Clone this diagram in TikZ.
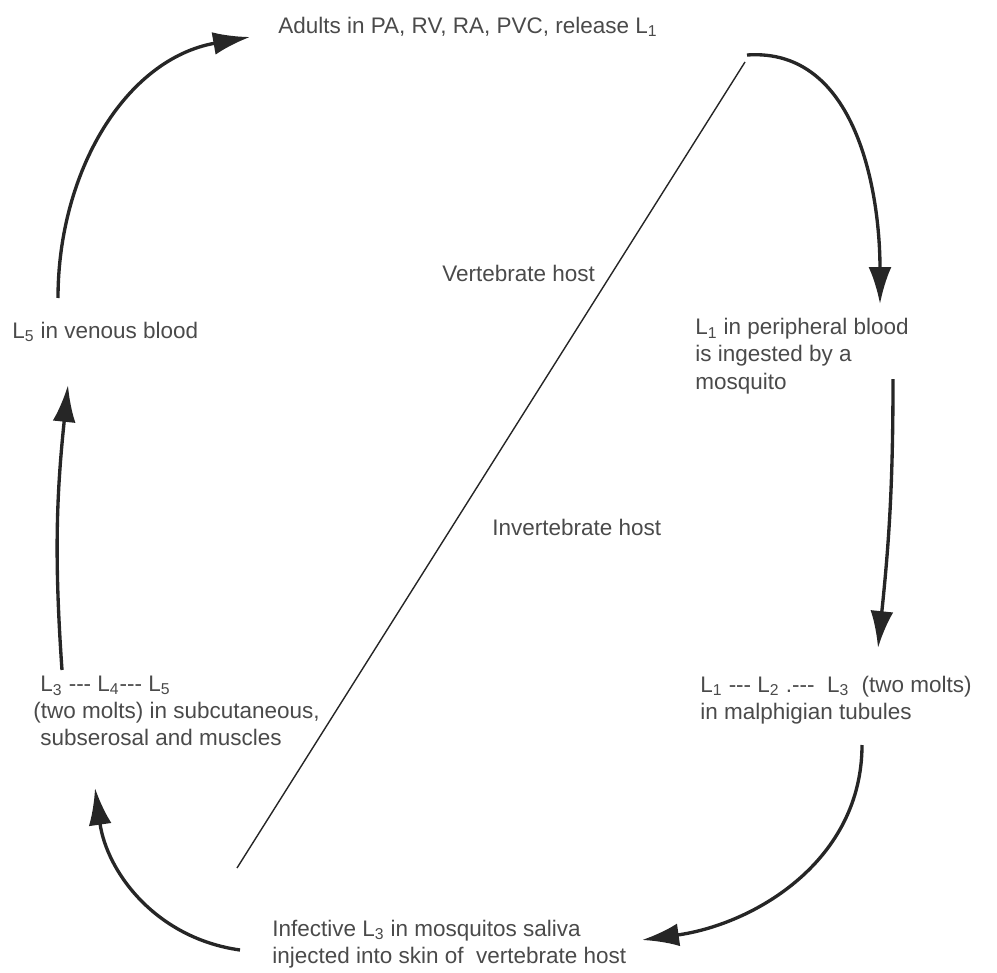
\documentclass[tikz,border=0pt]{standalone}
\usepackage{fontspec}
\setmainfont{Liberation Sans}
\usetikzlibrary{arrows.meta}

\definecolor{inkgray}{HTML}{4A4A4A}
\definecolor{linegray}{HTML}{262626}

\tikzstyle{stage} = [anchor=west, align=left, inner sep=0pt, text=inkgray, font=\fontsize{12.8}{15.5}\selectfont]
\tikzstyle{cyclearrow} = [draw=linegray, line width=1.9pt, -{Latex[length=21pt,width=13pt]}]
\tikzstyle{divider} = [draw=linegray, line width=0.8pt]

\begin{document}
\begin{tikzpicture}[x=0.02cm, y=-0.02cm]
    \useasboundingbox (0,0) rectangle (997,973);
    % nodes
    \foreach \nodename/\x/\y/\stagetext in {
      adults/278/27/{Adults in PA, RV, RA, PVC, release L\textsubscript{1}},
      blood/695/356/{L\textsubscript{1} in peripheral blood\\is ingested by a\\mosquito},
      tubules/700/700/{L\textsubscript{1} -{}-{}- L\textsubscript{2} .-{}-{}-\ \ L\textsubscript{3}\ \ (two molts)\\in malphigian tubules},
      saliva/272/944/{Infective L\textsubscript{3} in mosquitos saliva\\injected into skin of\ \ vertebrate host},
      muscles/33/711/{\hspace*{4pt}L\textsubscript{3} -{}-{}- L\textsubscript{4}-{}-{}- L\textsubscript{5}\\(two molts) in subcutaneous,\\\hspace*{4pt}subserosal and muscles},
      venous/12/332/{L\textsubscript{5} in venous blood},
      vert/442/273/{Vertebrate host},
      invert/492/527/{Invertebrate host}}
    {
        \node[stage] (\nodename) at (\x,\y) {\stagetext};
    };
    % host divider
    \coordinate (hosttop) at (745,62);
    \coordinate (hostbot) at (237,868);
    \draw[divider] (hosttop) -- (hostbot);
    % edges
    \foreach \startnode/\sx/\sy/\endnode/\ex/\ey/\outangle/\inangle in {
      venous/46/-34/adults/-28/10/90/190,
      adults/469/28/blood/185/-52/4/90,
      blood/198/23/tubules/178/-52/-90/84,
      tubules/162/45/saliva/370/-4/-90/8,
      saliva/-32/6/muscles/62/77/172/-82,
      muscles/29/-41/venous/56/53/94/264}
    {
        \draw[cyclearrow] ([shift={(\sx,\sy)}]\startnode.west) to[out=\outangle, in=\inangle] ([shift={(\ex,\ey)}]\endnode.west);
    };
\end{tikzpicture}
\end{document}
